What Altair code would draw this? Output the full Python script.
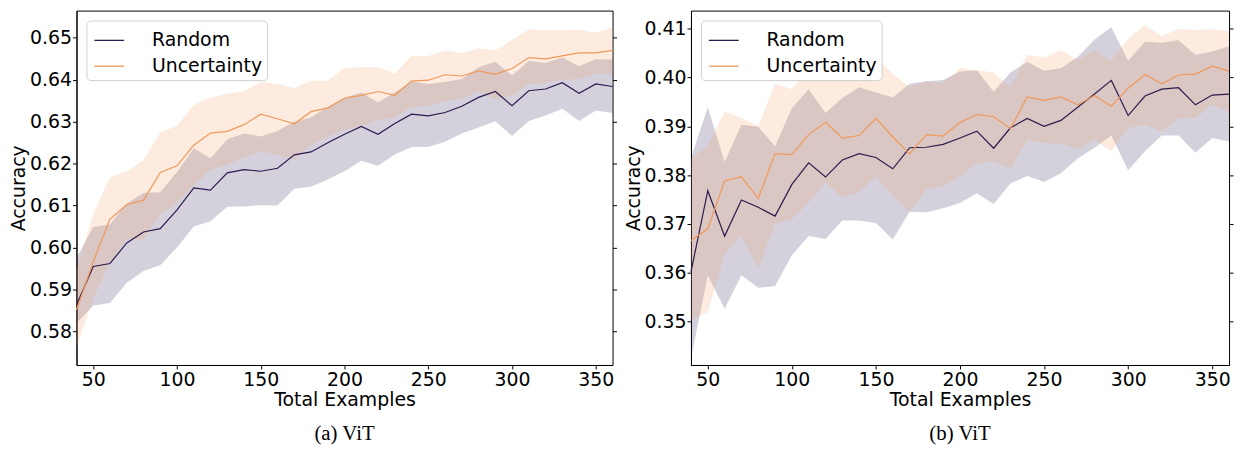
import altair as alt
import pandas as pd

examples = [40, 50, 60, 70, 80, 90, 100, 110, 120, 130, 140, 150, 160, 170, 180, 190, 200,
            210, 220, 230, 240, 250, 260, 270, 280, 290, 300, 310, 320, 330, 340, 350, 360]
methods = ["Random", "Uncertainty"]
line_colors = ["#2c1b4f", "#f0995a"]
x_ticks = [50, 100, 150, 200, 250, 300, 350]

# ---- panel (a) ----
a_rand_mean = [0.5863, 0.5955, 0.5962, 0.6011, 0.6037, 0.6045, 0.6090, 0.6142, 0.6137, 0.6178,
               0.6186, 0.6182, 0.6189, 0.6221, 0.6228, 0.6250, 0.6270, 0.6289, 0.6270, 0.6296,
               0.6318, 0.6314, 0.6322, 0.6337, 0.6358, 0.6372, 0.6338, 0.6374, 0.6378, 0.6393,
               0.6368, 0.6390, 0.6384]
a_rand_lo = [0.5820, 0.5862, 0.5868, 0.5916, 0.5944, 0.5958, 0.6000, 0.6050, 0.6063, 0.6097,
             0.6098, 0.6101, 0.6100, 0.6140, 0.6145, 0.6162, 0.6182, 0.6207, 0.6195, 0.6222,
             0.6240, 0.6240, 0.6252, 0.6272, 0.6286, 0.6301, 0.6266, 0.6302, 0.6315, 0.6331,
             0.6302, 0.6327, 0.6321]
a_rand_hi = [0.5975, 0.6049, 0.6055, 0.6105, 0.6130, 0.6132, 0.6180, 0.6236, 0.6213, 0.6258,
             0.6272, 0.6265, 0.6278, 0.6300, 0.6310, 0.6336, 0.6357, 0.6370, 0.6346, 0.6370,
             0.6396, 0.6390, 0.6395, 0.6402, 0.6430, 0.6443, 0.6410, 0.6445, 0.6440, 0.6453,
             0.6432, 0.6449, 0.6448]
a_unc_mean = [0.5851, 0.5966, 0.6068, 0.6102, 0.6113, 0.6179, 0.6195, 0.6244, 0.6273, 0.6277,
              0.6293, 0.6318, 0.6307, 0.6295, 0.6324, 0.6333, 0.6356, 0.6363, 0.6372, 0.6363,
              0.6397, 0.6399, 0.6412, 0.6409, 0.6421, 0.6413, 0.6427, 0.6453, 0.6450, 0.6457,
              0.6464, 0.6464, 0.6470]
a_unc_lo = [0.5762, 0.5880, 0.5965, 0.6020, 0.6020, 0.6080, 0.6105, 0.6150, 0.6185, 0.6198,
            0.6215, 0.6230, 0.6220, 0.6210, 0.6245, 0.6265, 0.6280, 0.6290, 0.6305, 0.6310,
            0.6335, 0.6338, 0.6350, 0.6355, 0.6372, 0.6355, 0.6362, 0.6390, 0.6393, 0.6400,
            0.6402, 0.6415, 0.6415]
a_unc_hi = [0.5945, 0.6080, 0.6167, 0.6182, 0.6208, 0.6275, 0.6290, 0.6340, 0.6357, 0.6367,
            0.6372, 0.6395, 0.6390, 0.6380, 0.6398, 0.6398, 0.6428, 0.6430, 0.6430, 0.6415,
            0.6457, 0.6457, 0.6470, 0.6463, 0.6475, 0.6470, 0.6495, 0.6520, 0.6518, 0.6518,
            0.6520, 0.6512, 0.6525]

# ---- panel (b) ----
b_rand_mean = [0.3602, 0.3768, 0.3675, 0.3749, 0.3734, 0.3716, 0.3781, 0.3825, 0.3796, 0.3831,
               0.3844, 0.3836, 0.3813, 0.3856, 0.3857, 0.3863, 0.3876, 0.3890, 0.3855, 0.3897,
               0.3916, 0.3900, 0.3912, 0.3939, 0.3966, 0.3994, 0.3922, 0.3962, 0.3976, 0.3979,
               0.3944, 0.3964, 0.3966]
b_rand_lo = [0.3425, 0.3595, 0.3526, 0.3595, 0.3569, 0.3573, 0.3636, 0.3675, 0.3669, 0.3707,
             0.3707, 0.3702, 0.3668, 0.3725, 0.3724, 0.3732, 0.3743, 0.3763, 0.3741, 0.3783,
             0.3798, 0.3786, 0.3804, 0.3834, 0.3856, 0.3881, 0.3810, 0.3849, 0.3881, 0.3881,
             0.3846, 0.3876, 0.3869]
b_rand_hi = [0.3835, 0.3939, 0.3827, 0.3903, 0.3899, 0.3859, 0.3937, 0.3976, 0.3927, 0.3958,
             0.3980, 0.3969, 0.3959, 0.3987, 0.3992, 0.3995, 0.4012, 0.4015, 0.3971, 0.4010,
             0.4032, 0.4014, 0.4019, 0.4042, 0.4078, 0.4103, 0.4034, 0.4073, 0.4071, 0.4076,
             0.4046, 0.4053, 0.4064]
b_unc_mean = [0.3666, 0.3690, 0.3788, 0.3797, 0.3752, 0.3844, 0.3842, 0.3883, 0.3908, 0.3876,
              0.3881, 0.3916, 0.3878, 0.3844, 0.3883, 0.3880, 0.3908, 0.3924, 0.3920, 0.3895,
              0.3960, 0.3953, 0.3960, 0.3944, 0.3963, 0.3941, 0.3978, 0.4006, 0.3987, 0.4005,
              0.4007, 0.4023, 0.4013]
b_unc_lo = [0.3503, 0.3520, 0.3639, 0.3676, 0.3610, 0.3700, 0.3710, 0.3744, 0.3785, 0.3754,
            0.3766, 0.3797, 0.3758, 0.3725, 0.3771, 0.3777, 0.3798, 0.3824, 0.3829, 0.3813,
            0.3873, 0.3865, 0.3865, 0.3854, 0.3873, 0.3849, 0.3897, 0.3903, 0.3890, 0.3917,
            0.3917, 0.3944, 0.3930]
b_unc_hi = [0.3834, 0.3859, 0.3930, 0.3917, 0.3900, 0.3987, 0.3976, 0.4019, 0.4022, 0.4000,
            0.4002, 0.4041, 0.4007, 0.3980, 0.3992, 0.3988, 0.4019, 0.4015, 0.4010, 0.3980,
            0.4046, 0.4041, 0.4056, 0.4036, 0.4055, 0.4034, 0.4080, 0.4107, 0.4084, 0.4100,
            0.4097, 0.4099, 0.4095]


def make_df(rm, rl, rh, um, ul, uh):
    rows = []
    for i, x in enumerate(examples):
        rows.append(dict(x=x, method="Random", band="Random", mean=rm[i], lo=rl[i], hi=rh[i]))
    for i, x in enumerate(examples):
        rows.append(dict(x=x, method="Uncertainty", band="Uncertainty", mean=um[i], lo=ul[i], hi=uh[i]))
    return pd.DataFrame(rows)


def panel(df, ydomain, yticks, caption, width):
    xs = alt.Scale(domain=[40, 360], nice=False, zero=False)
    ys = alt.Scale(domain=ydomain, nice=False, zero=False)
    xaxis = alt.Axis(title="Total Examples", values=x_ticks, titlePadding=1)
    band = alt.Chart(df).mark_area(opacity=0.2).encode(
        x=alt.X("x:Q", scale=xs, axis=xaxis),
        y=alt.Y("lo:Q", scale=ys,
                axis=alt.Axis(title="Accuracy", values=yticks, format=".2f",
                              orient="left", titlePadding=1, labelPadding=1)),
        y2="hi:Q",
        # no explicit domain here, so this scale is not merged with the line legend
        fill=alt.Fill("band:N", scale=alt.Scale(range=line_colors), legend=None),
    )
    line = alt.Chart(df).mark_line(strokeWidth=1.2).encode(
        x=alt.X("x:Q", scale=xs, axis=xaxis),
        y=alt.Y("mean:Q", scale=ys,
                axis=alt.Axis(orient="right", labels=False, title=None, values=yticks,
                              domain=False)),
        color=alt.Color("method:N", scale=alt.Scale(domain=methods, range=line_colors),
                        legend=alt.Legend(title=None, orient="top-left", symbolType="stroke",
                                          fillColor="white", strokeColor="#d0d0d0",
                                          cornerRadius=4, padding=4, offset=10,
                                          rowPadding=-2, symbolSize=900, symbolOffset=3,
                                          symbolStrokeWidth=1.3, labelOffset=27,
                                          labelFontSize=19, labelFont="DejaVu Sans",
                                          labelColor="black")),
    )
    return alt.layer(band, line).resolve_axis(y="independent").properties(
        width=width, height=357,
        title=alt.TitleParams(caption, orient="bottom", font="Liberation Serif",
                              fontSize=21, fontWeight="normal", color="black", offset=14),
    )


df_a = make_df(a_rand_mean, a_rand_lo, a_rand_hi, a_unc_mean, a_unc_lo, a_unc_hi)
df_b = make_df(b_rand_mean, b_rand_lo, b_rand_hi, b_unc_mean, b_unc_lo, b_unc_hi)

pa = panel(df_a, [0.572, 0.6565], [0.58, 0.59, 0.60, 0.61, 0.62, 0.63, 0.64, 0.65], "(a) ViT", 540)
pb = panel(df_b, [0.3411, 0.4137], [0.35, 0.36, 0.37, 0.38, 0.39, 0.40, 0.41], "(b) ViT", 542)

chart = alt.hconcat(pa, pb, spacing=6).resolve_scale(
    color="independent", fill="independent"
).resolve_legend(
    color="independent"
).properties(
    padding={"left": 1, "top": 0, "right": 0, "bottom": 0}
).configure_axis(
    labelFont="DejaVu Sans", labelFontSize=19, labelColor="black",
    titleFont="DejaVu Sans", titleFontSize=19, titleFontWeight="normal", titleColor="black",
    domainColor="black", tickColor="black", tickSize=4, labelPadding=2, grid=False,
).configure_view(
    stroke="black", strokeWidth=1,
)

chart.save("out.html", embed_options={"renderer": "svg", "actions": False})
